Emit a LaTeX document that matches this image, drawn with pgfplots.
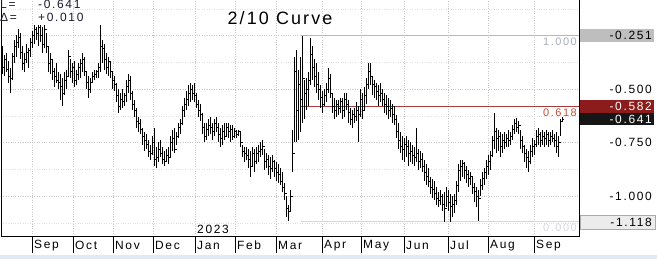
\documentclass[border=0pt]{standalone}
\usepackage{fontspec}
\setmainfont{Liberation Sans}
\newfontfamily\bbg{Liberation Sans}[LetterSpace=14]
\newfontfamily\bbgt{Liberation Sans}[LetterSpace=12]
\usepackage{pgfplots}
\usepackage{pgfplotstable}
\pgfplotsset{compat=1.18}
\definecolor{fibgray}{RGB}{185,185,185}
\definecolor{fibred}{RGB}{165,60,60}
\definecolor{fibredtxt}{RGB}{196,78,52}
\definecolor{fibtop}{RGB}{165,175,185}
\definecolor{fibbot}{RGB}{212,215,220}
\definecolor{boxred}{RGB}{140,28,28}
\definecolor{boxblack}{RGB}{22,22,22}
\definecolor{boxgray}{RGB}{190,190,190}
\definecolor{boxlight}{RGB}{236,236,236}
\definecolor{boxlightb}{RGB}{170,170,170}
\definecolor{strip}{RGB}{224,234,247}
\definecolor{txtdark}{RGB}{25,25,45}
\pgfdeclareplotmark{ctick}{\pgfpathmoveto{\pgfqpoint{0pt}{0pt}}\pgfpathlineto{\pgfqpoint{1.1pt}{0pt}}\pgfusepathqstroke}
\pgfdeclareplotmark{otick}{\pgfpathmoveto{\pgfqpoint{0pt}{0pt}}\pgfpathlineto{\pgfqpoint{-1.1pt}{0pt}}\pgfusepathqstroke}
\pgfplotstableread{
h l c
-0.30 -0.43 -0.40
-0.34 -0.44 -0.36
-0.33 -0.42 -0.41
-0.37 -0.47 -0.44
-0.40 -0.52 -0.45
-0.33 -0.46 -0.35
-0.27 -0.38 -0.30
-0.25 -0.35 -0.28
-0.22 -0.31 -0.26
-0.24 -0.36 -0.33
-0.30 -0.41 -0.38
-0.33 -0.42 -0.36
-0.29 -0.38 -0.33
-0.31 -0.40 -0.32
-0.26 -0.35 -0.28
-0.23 -0.31 -0.25
-0.20 -0.29 -0.22
-0.21 -0.27 -0.24
-0.20 -0.30 -0.21
-0.20 -0.28 -0.25
-0.21 -0.33 -0.29
-0.20 -0.31 -0.22
-0.24 -0.33 -0.30
-0.30 -0.42 -0.38
-0.33 -0.43 -0.36
-0.36 -0.46 -0.42
-0.40 -0.49 -0.44
-0.38 -0.47 -0.46
-0.42 -0.50 -0.47
-0.43 -0.55 -0.49
-0.45 -0.58 -0.52
-0.42 -0.53 -0.46
-0.41 -0.50 -0.44
-0.32 -0.44 -0.35
-0.36 -0.45 -0.42
-0.38 -0.47 -0.40
-0.37 -0.49 -0.46
-0.41 -0.48 -0.43
-0.38 -0.46 -0.40
-0.36 -0.45 -0.38
-0.33 -0.42 -0.36
-0.35 -0.44 -0.42
-0.42 -0.50 -0.47
-0.44 -0.54 -0.50
-0.45 -0.52 -0.47
-0.42 -0.47 -0.44
-0.41 -0.46 -0.43
-0.41 -0.45 -0.42
-0.38 -0.45 -0.40
-0.20 -0.42 -0.30
-0.27 -0.38 -0.31
-0.29 -0.41 -0.36
-0.33 -0.43 -0.40
-0.35 -0.44 -0.37
-0.37 -0.45 -0.42
-0.42 -0.50 -0.46
-0.44 -0.51 -0.48
-0.47 -0.56 -0.53
-0.50 -0.61 -0.58
-0.52 -0.60 -0.55
-0.50 -0.59 -0.56
-0.52 -0.58 -0.53
-0.46 -0.56 -0.49
-0.43 -0.52 -0.46
-0.44 -0.55 -0.52
-0.51 -0.60 -0.57
-0.55 -0.63 -0.60
-0.59 -0.68 -0.65
-0.63 -0.70 -0.66
-0.64 -0.71 -0.69
-0.68 -0.76 -0.72
-0.70 -0.79 -0.74
-0.71 -0.78 -0.76
-0.74 -0.82 -0.79
-0.76 -0.83 -0.80
-0.72 -0.81 -0.75
-0.68 -0.86 -0.83
-0.77 -0.87 -0.82
-0.75 -0.84 -0.78
-0.74 -0.82 -0.80
-0.77 -0.85 -0.83
-0.79 -0.86 -0.84
-0.78 -0.84 -0.81
-0.77 -0.85 -0.82
-0.72 -0.82 -0.75
-0.69 -0.79 -0.73
-0.68 -0.80 -0.78
-0.70 -0.76 -0.72
-0.66 -0.73 -0.68
-0.64 -0.71 -0.66
-0.58 -0.67 -0.60
-0.54 -0.63 -0.57
-0.51 -0.60 -0.55
-0.48 -0.58 -0.52
-0.47 -0.56 -0.50
-0.48 -0.55 -0.52
-0.47 -0.56 -0.53
-0.52 -0.59 -0.57
-0.55 -0.63 -0.60
-0.57 -0.65 -0.62
-0.61 -0.71 -0.68
-0.66 -0.75 -0.72
-0.66 -0.74 -0.69
-0.64 -0.72 -0.67
-0.63 -0.71 -0.68
-0.66 -0.74 -0.70
-0.64 -0.72 -0.66
-0.63 -0.70 -0.68
-0.66 -0.75 -0.71
-0.68 -0.77 -0.73
-0.67 -0.76 -0.70
-0.66 -0.74 -0.72
-0.66 -0.72 -0.68
-0.66 -0.73 -0.70
-0.67 -0.75 -0.69
-0.67 -0.74 -0.72
-0.68 -0.73 -0.70
-0.69 -0.73 -0.71
-0.69 -0.72 -0.70
-0.70 -0.77 -0.75
-0.76 -0.82 -0.79
-0.77 -0.84 -0.80
-0.77 -0.83 -0.81
-0.78 -0.87 -0.83
-0.79 -0.91 -0.86
-0.77 -0.86 -0.80
-0.78 -0.89 -0.84
-0.77 -0.85 -0.80
-0.76 -0.84 -0.79
-0.75 -0.82 -0.78
-0.74 -0.81 -0.77
-0.78 -0.88 -0.84
-0.80 -0.87 -0.83
-0.81 -0.90 -0.86
-0.82 -0.92 -0.87
-0.81 -0.89 -0.84
-0.83 -0.91 -0.87
-0.84 -0.93 -0.89
-0.85 -0.94 -0.90
-0.87 -0.95 -0.93
-0.89 -0.98 -0.96
-0.94 -1.02 -0.99
-1.00 -1.10 -1.06
-1.04 -1.118 -1.07
-0.97 -1.07 -1.00
-0.69 -0.89 -0.80
-0.35 -0.75 -0.42
-0.32 -0.75 -0.60
-0.41 -0.74 -0.48
-0.35 -0.70 -0.55
-0.251 -0.66 -0.45
-0.46 -0.64 -0.52
-0.45 -0.60 -0.50
-0.42 -0.58 -0.46
-0.26 -0.48 -0.34
-0.30 -0.46 -0.40
-0.36 -0.49 -0.44
-0.38 -0.52 -0.48
-0.42 -0.55 -0.50
-0.48 -0.59 -0.54
-0.51 -0.61 -0.57
-0.50 -0.58 -0.53
-0.47 -0.56 -0.50
-0.40 -0.52 -0.45
-0.43 -0.54 -0.52
-0.52 -0.61 -0.58
-0.54 -0.64 -0.60
-0.55 -0.63 -0.57
-0.55 -0.62 -0.59
-0.54 -0.61 -0.56
-0.54 -0.64 -0.60
-0.52 -0.63 -0.55
-0.52 -0.60 -0.57
-0.55 -0.66 -0.61
-0.59 -0.67 -0.64
-0.60 -0.68 -0.62
-0.59 -0.66 -0.63
-0.56 -0.65 -0.60
-0.58 -0.75 -0.62
-0.50 -0.63 -0.55
-0.52 -0.64 -0.60
-0.49 -0.60 -0.53
-0.45 -0.57 -0.48
-0.38 -0.50 -0.42
-0.38 -0.48 -0.44
-0.44 -0.53 -0.48
-0.46 -0.54 -0.49
-0.47 -0.55 -0.51
-0.48 -0.58 -0.53
-0.47 -0.56 -0.52
-0.50 -0.58 -0.55
-0.52 -0.61 -0.57
-0.53 -0.62 -0.58
-0.54 -0.64 -0.60
-0.55 -0.63 -0.59
-0.57 -0.66 -0.62
-0.58 -0.67 -0.64
-0.62 -0.73 -0.70
-0.66 -0.78 -0.74
-0.70 -0.80 -0.77
-0.72 -0.83 -0.78
-0.73 -0.84 -0.76
-0.72 -0.82 -0.77
-0.74 -0.86 -0.80
-0.75 -0.84 -0.79
-0.76 -0.85 -0.81
-0.77 -0.86 -0.82
-0.68 -0.84 -0.80
-0.78 -0.88 -0.84
-0.79 -0.87 -0.83
-0.80 -0.89 -0.86
-0.83 -0.93 -0.89
-0.85 -0.95 -0.91
-0.87 -0.96 -0.93
-0.91 -0.99 -0.96
-0.92 -1.01 -0.97
-0.93 -1.02 -0.99
-0.96 -1.04 -1.01
-0.98 -1.05 -1.02
-0.97 -1.04 -1.00
-0.99 -1.07 -1.04
-0.98 -1.12 -1.06
-0.96 -1.05 -1.00
-0.97 -1.07 -1.03
-0.99 -1.12 -1.05
-1.00 -1.10 -1.04
-0.99 -1.08 -1.02
-0.93 -1.04 -0.95
-0.85 -0.98 -0.88
-0.83 -0.93 -0.86
-0.83 -0.91 -0.85
-0.84 -0.92 -0.88
-0.86 -0.94 -0.90
-0.88 -0.96 -0.92
-0.89 -0.95 -0.91
-0.91 -0.99 -0.96
-0.94 -1.03 -0.98
-0.96 -1.05 -1.00
-0.97 -1.118 -1.01
-0.92 -1.00 -0.95
-0.89 -0.97 -0.92
-0.87 -0.95 -0.89
-0.83 -0.92 -0.86
-0.81 -0.90 -0.84
-0.79 -0.88 -0.81
-0.72 -0.82 -0.74
-0.61 -0.78 -0.70
-0.68 -0.80 -0.73
-0.69 -0.79 -0.72
-0.70 -0.82 -0.77
-0.71 -0.80 -0.74
-0.70 -0.78 -0.75
-0.71 -0.77 -0.73
-0.69 -0.77 -0.74
-0.70 -0.76 -0.72
-0.67 -0.74 -0.69
-0.64 -0.71 -0.66
-0.635 -0.70 -0.68
-0.65 -0.71 -0.67
-0.69 -0.78 -0.74
-0.72 -0.80 -0.77
-0.76 -0.84 -0.80
-0.78 -0.87 -0.82
-0.79 -0.89 -0.84
-0.76 -0.85 -0.79
-0.73 -0.82 -0.77
-0.74 -0.81 -0.76
-0.69 -0.77 -0.72
-0.68 -0.76 -0.71
-0.70 -0.77 -0.74
-0.69 -0.76 -0.72
-0.70 -0.77 -0.73
-0.69 -0.76 -0.71
-0.70 -0.77 -0.74
-0.70 -0.76 -0.72
-0.69 -0.75 -0.73
-0.71 -0.77 -0.74
-0.70 -0.80 -0.77
-0.72 -0.82 -0.75
-0.64 -0.72 -0.65
-0.63 -0.655 -0.641
}\ohlc
\begin{document}
\begin{tikzpicture}
\begin{axis}[
  name=ax, scale only axis, width=578bp, height=236bp,
  xmin=1, xmax=579, ymin=-1.18692, ymax=-0.08411,
  clip=false, axis line style={draw=none},
  xtick={32,73,113,153,195,235,276,322,361,404,448,488,534},
  xticklabels={Sep,Oct,Nov,Dec,Jan,Feb,Mar,Apr,May,Jun,Jul,Aug,Sep},
  xtick pos=bottom, xtick align=outside, major tick length=17bp, minor tick length=0pt,
  xtick style={black, line width=0.9bp},
  xticklabel style={font=\bbg\fontsize{12}{12}\selectfont, anchor=west, inner sep=0pt, xshift=2bp, yshift=7.5bp},
  ytick={-1,-0.75,-0.5,-0.25},
  yticklabels={-1.000,-0.750,-0.500,{}},
  minor ytick={-1.125,-0.875,-0.625,-0.375,-0.125},
  ytick style={draw=none},
  yticklabel pos=right,
  yticklabel style={font=\bbg\fontsize{12}{12}\selectfont, anchor=east, inner sep=0pt, xshift=73bp},
  ymajorgrids, yminorgrids, xmajorgrids,
  major grid style={dotted, black!22},
  minor grid style={dotted, black!12},
]
% bottom strip
\fill[strip] (axis cs:-2,-1.2757) rectangle (axis cs:660,-1.31);
% frame
\draw[black, line width=1bp] (axis cs:1,-0.08411) -- (axis cs:1,-1.18692) -- (axis cs:579,-1.18692) -- (axis cs:579,-0.08411);
% fib lines
\addplot[fibgray, line width=1.4bp, no marks] coordinates {(301,-0.251) (579,-0.251)};
\addplot[fibbot, line width=1.2bp, no marks] coordinates {(301,-1.118) (579,-1.118)};
\addplot[fibred, line width=1.4bp, no marks] coordinates {(301,-0.582) (579,-0.582)};
% bars
\addplot[black, only marks, mark=ctick, mark options={line width=0.8bp, solid},
  error bars/.cd, y dir=both, y explicit, error mark=none,
  error bar style={line width=1bp, black}]
  table[x expr=2.5+2*\coordindex, y=c, y error plus expr=\thisrow{h}-\thisrow{c}, y error minus expr=\thisrow{c}-\thisrow{l}] {\ohlc};
\addplot[black, only marks, mark=otick, mark options={line width=0.8bp, solid},
  skip coords between index={280}{281}]
  table[x expr=4.5+2*\coordindex, y=c] {\ohlc};
% fib labels
\node[anchor=east, inner sep=0pt, text=fibtop, font=\bbg\fontsize{11}{11}\selectfont] at (axis cs:577,-0.278) {1.000};
\node[anchor=east, inner sep=0pt, text=fibredtxt, font=\bbg\fontsize{11}{11}\selectfont] at (axis cs:577,-0.612) {0.618};
\node[anchor=east, inner sep=0pt, text=fibbot, font=\bbg\fontsize{11}{11}\selectfont] at (axis cs:577,-1.1495) {0.000};
% right boxes
\fill[boxgray] ([yshift=-6.5bp]axis cs:580,-0.251) rectangle ([yshift=6.5bp]axis cs:654,-0.251);
\node[anchor=east, inner sep=0pt, font=\bbg\fontsize{12}{12}\selectfont] at (axis cs:652,-0.251) {-0.251};
\fill[boxred] ([yshift=-6.5bp]axis cs:580,-0.582) rectangle ([yshift=6.5bp]axis cs:654,-0.582);
\node[anchor=east, inner sep=0pt, text=white, font=\bbg\fontsize{12}{12}\selectfont] at (axis cs:652,-0.582) {-0.582};
\fill[boxblack] ([yshift=-6.2bp]axis cs:580,-0.641) rectangle ([yshift=6bp]axis cs:654,-0.641);
\node[anchor=east, inner sep=0pt, text=white, font=\bbg\fontsize{12}{12}\selectfont] at (axis cs:652,-0.641) {-0.641};
\filldraw[fill=boxlight, draw=boxlightb, line width=0.6bp] ([yshift=-7bp]axis cs:580,-1.121) rectangle ([yshift=7bp]axis cs:655,-1.121);
\node[anchor=east, inner sep=0pt, font=\bbg\fontsize{12}{12}\selectfont] at (axis cs:652,-1.121) {-1.118};
% texts
\node[anchor=center, inner sep=0pt, text=black, font=\bbgt\fontsize{18}{18}\selectfont] at (axis cs:280,-0.1706) {2/10 Curve};
\node[anchor=west, inner sep=0pt, text=txtdark, font=\bbg\fontsize{12}{12}\selectfont] at (axis cs:0,-0.105) {L=};
\node[anchor=west, inner sep=0pt, text=txtdark, font=\bbg\fontsize{12}{12}\selectfont] at (axis cs:38,-0.105) {-0.641};
\node[anchor=west, inner sep=0pt, text=txtdark, font=\bbg\fontsize{12}{12}\selectfont] at (axis cs:0,-0.166) {Δ=};
\node[anchor=west, inner sep=0pt, text=txtdark, font=\bbg\fontsize{12}{12}\selectfont] at (axis cs:38,-0.166) {+0.010};
\node[anchor=west, inner sep=0pt, font=\bbg\fontsize{12}{12}\selectfont] at (axis cs:197,-1.1565) {2023};
\end{axis}
\pgfresetboundingbox
\path[use as bounding box] ([xshift=-1bp]ax.north west) rectangle ([xshift=78bp,yshift=-23bp]ax.south east);
\end{tikzpicture}
\end{document}
